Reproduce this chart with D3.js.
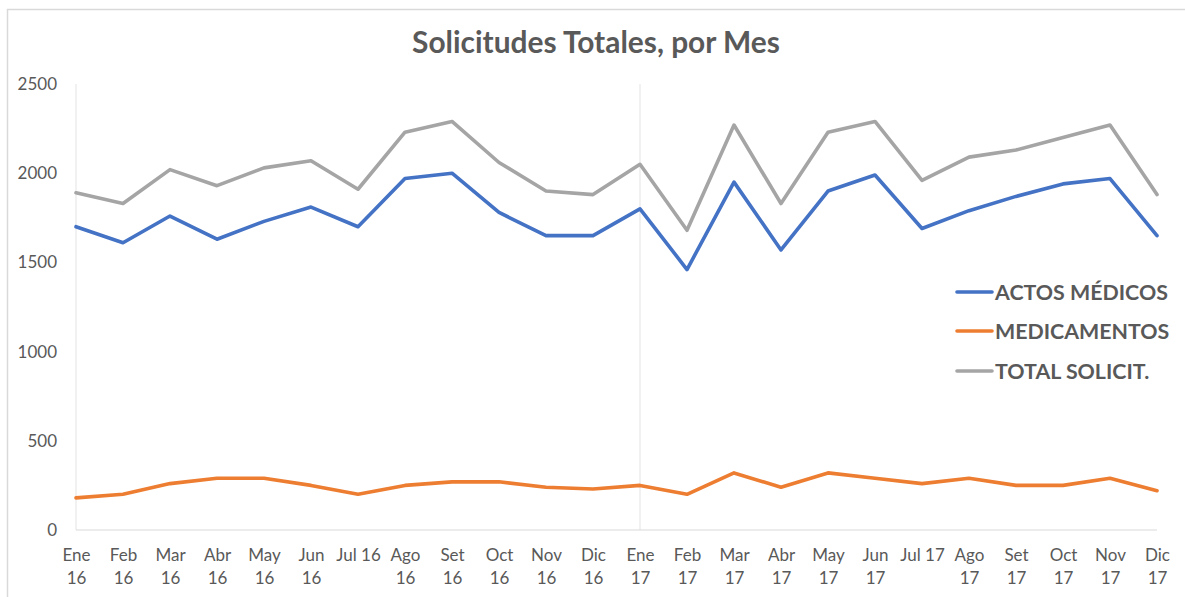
<!DOCTYPE html>
<html>
<head>
<meta charset="utf-8">
<script src="https://cdn.jsdelivr.net/npm/d3@7"></script>
<style>
  html, body { margin: 0; padding: 0; background: #fff; }
  svg { display: block; font-family: Lato, "Open Sans", sans-serif; }
</style>
</head>
<body>
<svg id="chart" width="1185" height="597"></svg>
<script>
const months = ["Ene 16","Feb 16","Mar 16","Abr 16","May 16","Jun 16","Jul 16","Ago 16","Set 16","Oct 16","Nov 16","Dic 16",
                "Ene 17","Feb 17","Mar 17","Abr 17","May 17","Jun 17","Jul 17","Ago 17","Set 17","Oct 17","Nov 17","Dic 17"];
const xTickLines = [["Ene","16"],["Feb","16"],["Mar","16"],["Abr","16"],["May","16"],["Jun","16"],["Jul 16"],["Ago","16"],["Set","16"],["Oct","16"],["Nov","16"],["Dic","16"],
                    ["Ene","17"],["Feb","17"],["Mar","17"],["Abr","17"],["May","17"],["Jun","17"],["Jul 17"],["Ago","17"],["Set","17"],["Oct","17"],["Nov","17"],["Dic","17"]];
const actosMedicos = [1700,1610,1760,1630,1730,1810,1700,1970,2000,1780,1650,1650,
                      1800,1460,1950,1570,1900,1990,1690,1790,1870,1940,1970,1650];
const medicamentos = [180,200,260,290,290,250,200,250,270,270,240,230,
                      250,200,320,240,320,290,260,290,250,250,290,220];
const totalSolicit = [1890,1830,2020,1930,2030,2070,1910,2230,2290,2060,1900,1880,
                      2050,1680,2270,1830,2230,2290,1960,2090,2130,2200,2270,1880];
const yTicks = [0,500,1000,1500,2000,2500];
const seriesNames = ["ACTOS MÉDICOS","MEDICAMENTOS","TOTAL SOLICIT."];
const seriesColors = ["#4472C4","#ED7D31","#A5A5A5"];
const yearStarts = ["Ene 16","Ene 17"];
const title = "Solicitudes Totales, por Mes";

const svg = d3.select("#chart");
const textColor = "#595959";

// frame border (top and left visible)
svg.append("path").attr("d","M7.5,597 L7.5,9.5 L1185,9.5").attr("fill","none").attr("stroke","#d9d9d9").attr("stroke-width",1.5);

const x = d3.scalePoint().domain(months).range([76, 1157]);
const y = d3.scaleLinear().domain([0, 2500]).range([530, 84]);

// title
const t = svg.append("text").attr("x", 596).attr("y", 53).attr("text-anchor","middle")
  .attr("font-weight","bold").attr("fill", textColor).attr("font-size", 24).text(title);
{ const w = t.node().getComputedTextLength(); t.attr("font-size", 24 * 368 / w); }

// year separators
svg.append("g").selectAll("line").data(yearStarts).join("line")
  .attr("x1", d => x(d)).attr("x2", d => x(d)).attr("y1", y(2500)).attr("y2", y(0))
  .attr("stroke", "#e3e3e3").attr("stroke-width", 1);

// baseline
svg.append("line").attr("x1", x(months[0])).attr("x2", x(months[months.length-1]))
  .attr("y1", y(0)).attr("y2", y(0)).attr("stroke", "#d9d9d9").attr("stroke-width", 1.2);

// y axis
const yAxis = svg.append("g").attr("transform","translate(57,0)")
  .call(d3.axisLeft(y).tickValues(yTicks).tickSize(0).tickPadding(0).tickFormat(d3.format("d")));
yAxis.select(".domain").remove();
yAxis.selectAll("text").attr("fill", textColor).attr("font-size", 17).attr("font-family","Lato, 'Open Sans', sans-serif");

// x axis
const xAxis = svg.append("g").attr("transform", `translate(0,${y(0)})`)
  .call(d3.axisBottom(x).tickSize(0).tickFormat(""));
xAxis.select(".domain").remove();
xAxis.selectAll(".tick").each(function(d, i) {
  const tx = d3.select(this).select("text").text(null)
    .attr("fill", textColor).attr("font-size", 17).attr("font-family","Lato, 'Open Sans', sans-serif")
    .attr("y", 0).attr("dy", null);
  xTickLines[i].forEach((ln, k) => {
    tx.append("tspan").attr("x", 0).attr("y", 31 + k * 23).text(ln);
  });
});

// lines
const seriesData = [actosMedicos, medicamentos, totalSolicit];
const line = d3.line().x((d, i) => x(months[i])).y(d => y(d));
const drawOrder = [2, 1, 0];
svg.append("g").selectAll("path").data(drawOrder).join("path")
  .attr("d", k => line(seriesData[k]))
  .attr("fill","none").attr("stroke", k => seriesColors[k]).attr("stroke-width", 3.6)
  .attr("stroke-linejoin","round").attr("stroke-linecap","round");

// legend
const legendY = [292, 331, 371];
const lg = svg.append("g").selectAll("g").data(seriesNames).join("g")
  .attr("transform", (d, i) => `translate(957,${legendY[i]})`);
lg.append("line").attr("x1", 0).attr("x2", 35).attr("y1", 0).attr("y2", 0)
  .attr("stroke", (d, i) => seriesColors[i]).attr("stroke-width", 3.6).attr("stroke-linecap","round");
const lt = lg.append("text").attr("x", 38).attr("y", 0).attr("dy", "0.35em")
  .attr("font-weight","bold").attr("fill", textColor).attr("font-size", 19).text(d => d);
{ const w = lt.nodes()[0].getComputedTextLength(); lt.attr("font-size", 19 * 173 / w); }
</script>
</body>
</html>
